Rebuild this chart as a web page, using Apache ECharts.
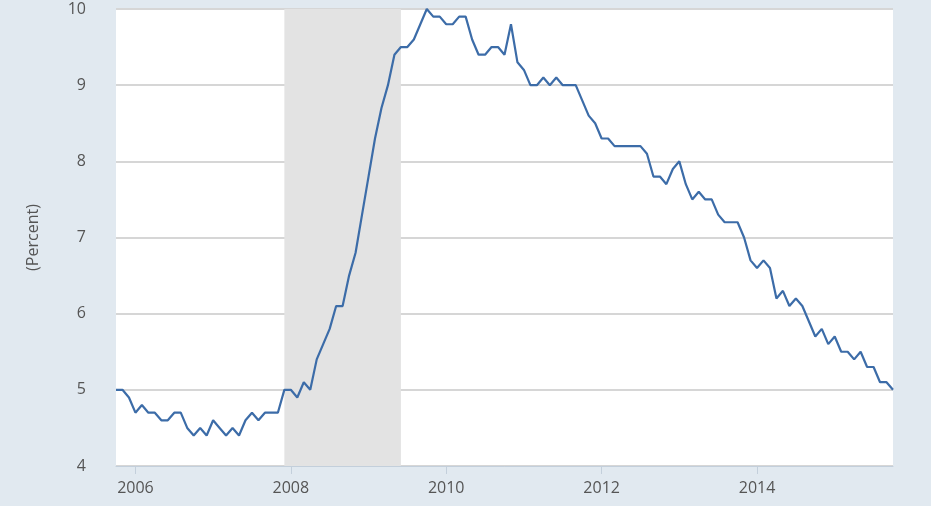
<!DOCTYPE html>
<html><head><meta charset="utf-8">
<script src="https://cdn.jsdelivr.net/npm/echarts@6/dist/echarts.min.js"></script>
<style>html,body{margin:0;padding:0;background:#e1e9f0;}#c{width:931px;height:506px;}</style>
</head><body><div id="c"></div>
<script>
const startYear = 2005, startMonth = 10;
const values = [
5.0,5.0,4.9,
4.7,4.8,4.7,4.7,4.6,4.6,4.7,4.7,4.5,4.4,4.5,4.4,
4.6,4.5,4.4,4.5,4.4,4.6,4.7,4.6,4.7,4.7,4.7,5.0,
5.0,4.9,5.1,5.0,5.4,5.6,5.8,6.1,6.1,6.5,6.8,7.3,
7.8,8.3,8.7,9.0,9.4,9.5,9.5,9.6,9.8,10.0,9.9,9.9,
9.8,9.8,9.9,9.9,9.6,9.4,9.4,9.5,9.5,9.4,9.8,9.3,
9.2,9.0,9.0,9.1,9.0,9.1,9.0,9.0,9.0,8.8,8.6,8.5,
8.3,8.3,8.2,8.2,8.2,8.2,8.2,8.1,7.8,7.8,7.7,7.9,
8.0,7.7,7.5,7.6,7.5,7.5,7.3,7.2,7.2,7.2,7.0,6.7,
6.6,6.7,6.6,6.2,6.3,6.1,6.2,6.1,5.9,5.7,5.8,5.6,
5.7,5.5,5.5,5.4,5.5,5.3,5.3,5.1,5.1,5.0
];
const yTicks = [4,5,6,7,8,9,10];
const xTickYears = [2006,2008,2010,2012,2014];
const recession = ['2007-12','2009-06'];

const months = [];
{
  let y = startYear, m = startMonth;
  for (let i = 0; i < values.length; i++) {
    months.push(y + '-' + String(m).padStart(2,'0'));
    m++; if (m > 12) { m = 1; y++; }
  }
}
const isTick = (i) => {
  const s = months[i];
  return s.endsWith('-01') && xTickYears.indexOf(+s.slice(0,4)) >= 0;
};

const chart = echarts.init(document.getElementById('c'));
chart.setOption({
  backgroundColor: '#e1e9f0',
  animation: false,
  grid: { left: 116, right: 38, top: 9, bottom: 40, show: true, backgroundColor: '#ffffff', borderWidth: 0 },
  xAxis: {
    type: 'category', data: months, boundaryGap: false,
    axisLine: { show: true, lineStyle: { color: '#c3cfdb', width: 1 } },
    axisTick: { show: true, alignWithLabel: true, interval: (i) => isTick(i), length: 8, lineStyle: { color: '#c3cfdb' } },
    axisLabel: { interval: (i) => isTick(i), formatter: (v) => v.slice(0,4), color: '#555', fontSize: 16, fontFamily: 'Open Sans', margin: 14 },
    splitLine: { show: false }
  },
  yAxis: {
    type: 'value', min: yTicks[0], max: yTicks[yTicks.length-1], interval: 1,
    name: '(Percent)', nameLocation: 'middle', nameGap: 75, nameRotate: 90,
    nameTextStyle: { color: '#555', fontSize: 16, fontFamily: 'Open Sans' },
    axisLine: { show: false }, axisTick: { show: false },
    axisLabel: { color: '#555', fontSize: 16, fontFamily: 'Open Sans', margin: 30 },
    splitLine: { lineStyle: { color: '#d6d6d6', width: 2 } }
  },
  series: [{
    type: 'line', data: values, showSymbol: false, symbol: 'none',
    lineStyle: { color: '#3c6ca8', width: 2.2 },
    markArea: { silent: true, itemStyle: { color: '#e3e3e3' }, data: [[{ xAxis: recession[0] }, { xAxis: recession[1] }]] },
    z: 3
  }]
});
</script></body></html>
